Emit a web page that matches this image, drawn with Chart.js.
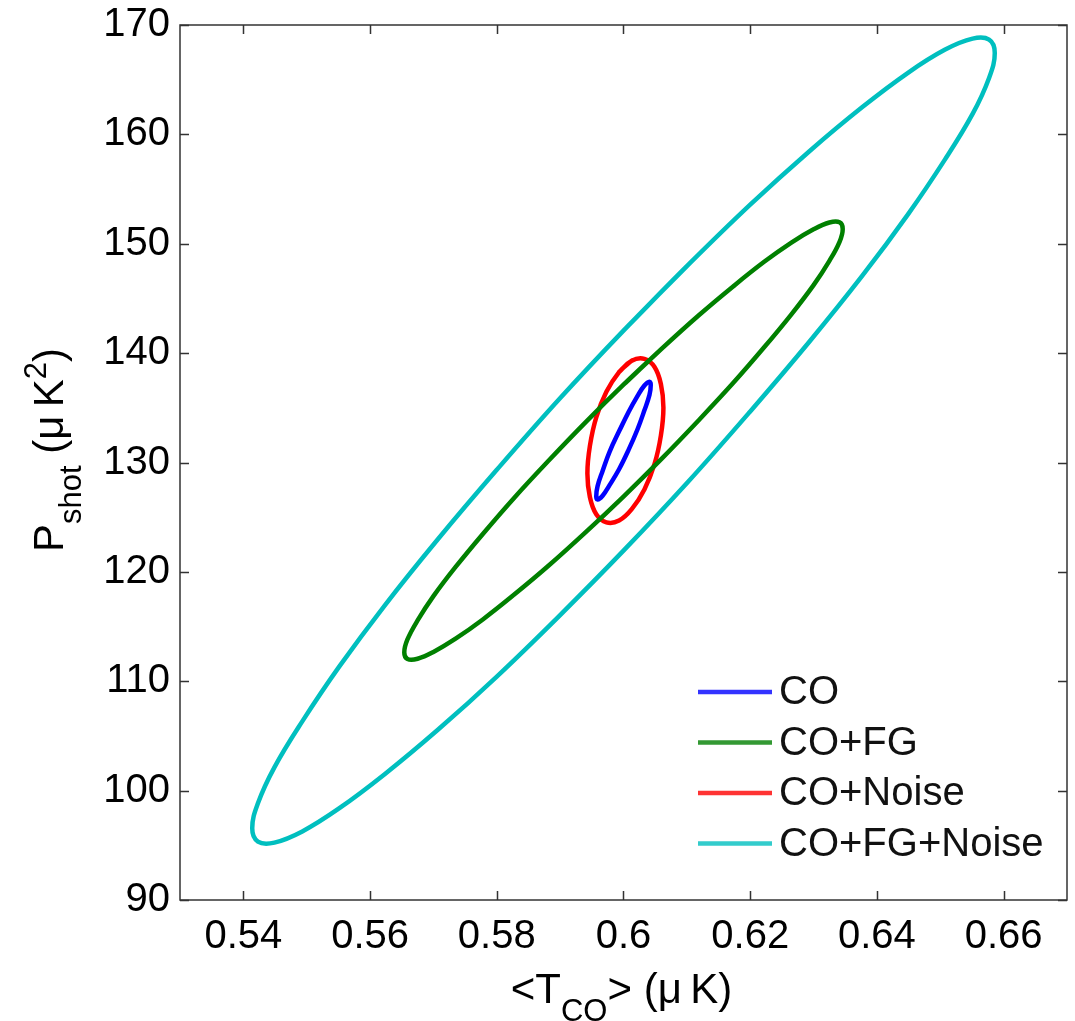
<!DOCTYPE html>
<html><head><meta charset="utf-8">
<script src="https://cdn.jsdelivr.net/npm/chart.js@4/dist/chart.umd.min.js"></script>
<style>html,body{margin:0;padding:0;background:#fff;}canvas{display:block;}</style>
</head><body>
<canvas id="c" width="1075" height="1021"></canvas>
<script>
// ---- data ----
const seriesLabels = ['CO', 'CO+FG', 'CO+Noise', 'CO+FG+Noise'];
const seriesColors = ['#0000FF', '#008000', '#FF0000', '#00BFBF'];

const coX = [0.6008,0.5993,0.5978,0.5967,0.5959,0.5957,0.5959,0.5967,0.5978,0.5993,0.6008,0.6022,0.6033,0.6041,0.6043,0.6041,0.6033,0.6022,0.6008,0.5993];
const coY = [134.62,132.85,130.98,129.23,127.82,126.91,126.61,126.96,127.93,129.38,131.15,133.02,134.77,136.18,137.09,137.39,137.04,136.07,134.62,132.85];

const coFgX = [0.6060,0.6000,0.5940,0.5882,0.5827,0.5778,0.5735,0.5700,0.5675,0.5659,0.5654,0.5659,0.5675,0.5700,0.5735,0.5778,0.5827,0.5882,0.5940,0.6000,0.6060,0.6118,0.6173,0.6222,0.6265,0.6300,0.6325,0.6341,0.6346,0.6341,0.6325,0.6300,0.6265,0.6222,0.6173,0.6118,0.6060,0.6000];
const coFgY = [140.39,137.11,133.67,130.18,126.74,123.47,120.45,117.78,115.56,113.82,112.64,112.04,112.06,112.68,113.89,115.65,117.90,120.58,123.61,126.89,130.33,133.82,137.26,140.53,143.55,146.22,148.44,150.18,151.36,151.96,151.94,151.32,150.11,148.35,146.10,143.42,140.39,137.11];

const coNoiseX = [0.6013,0.5993,0.5973,0.5957,0.5947,0.5943,0.5947,0.5957,0.5973,0.5993,0.6013,0.6033,0.6049,0.6059,0.6063,0.6059,0.6049,0.6033,0.6013,0.5993];
const coNoiseY = [139.31,138.27,136.46,134.13,131.53,128.99,126.82,125.27,124.53,124.69,125.73,127.54,129.87,132.47,135.01,137.18,138.73,139.47,139.31,138.27];

const coFgNoiseX = [0.6102,0.6000,0.5898,0.5800,0.5707,0.5623,0.5551,0.5493,0.5449,0.5423,0.5414,0.5423,0.5449,0.5493,0.5551,0.5623,0.5707,0.5800,0.5898,0.6000,0.6102,0.6200,0.6293,0.6377,0.6449,0.6507,0.6551,0.6577,0.6586,0.6577,0.6551,0.6507,0.6449,0.6377,0.6293,0.6200,0.6102,0.6000];
const coFgNoiseY = [148.06,142.06,135.76,129.33,122.98,116.92,111.31,106.33,102.13,98.84,96.55,95.34,95.25,96.27,98.37,101.50,105.56,110.43,115.94,121.94,128.24,134.67,141.02,147.08,152.69,157.67,161.87,165.16,167.45,168.66,168.75,167.73,165.63,162.50,158.44,153.57,148.06,142.06];

const xTickValues = [0.54, 0.56, 0.58, 0.60, 0.62, 0.64, 0.66];
const xTickLabels = ['0.54', '0.56', '0.58', '0.6', '0.62', '0.64', '0.66'];
const yTickValues = [90, 100, 110, 120, 130, 140, 150, 160, 170];
const yTickLabels = ['90', '100', '110', '120', '130', '140', '150', '160', '170'];

const xTitleParts = [['<T', 'main', 0], ['CO', 'sub', 1], ['> (\u03BC\u2009K)', 'main', 0]];
const yTitleParts = [['P', 'main', 0], ['shot', 'sub', 1], [' (\u03BC\u2009K', 'main', 0], ['2', 'sub', -1], [')', 'main', 0]];

// ---- rendering ----
const FONT = "'Liberation Sans', Arial, Helvetica, sans-serif";
const TICK = 40, MAIN = 42, SUB = 31, SUBSHIFT = 18, SUPSHIFT = 17;

const xsys = [[coX, coY], [coFgX, coFgY], [coNoiseX, coNoiseY], [coFgNoiseX, coFgNoiseY]];
const datasets = seriesLabels.map((lab, i) => ({
  label: lab,
  data: xsys[i][0].map((v, j) => ({ x: v, y: xsys[i][1][j] })),
  showLine: true,
  borderColor: seriesColors[i],
  backgroundColor: seriesColors[i],
  borderWidth: 4.5,
  pointRadius: 0,
  pointHoverRadius: 0,
  tension: 0.4,
  fill: false,
  borderCapStyle: 'round',
  borderJoinStyle: 'round'
}));

function labelFor(vals, labs, v) {
  const k = vals.findIndex(t => Math.abs(t - v) < 1e-9);
  return k >= 0 ? labs[k] : '';
}

function drawRich(ctx, parts, cx, cy) {
  let total = 0;
  const widths = parts.map(p => {
    ctx.font = (p[1] === 'main' ? MAIN : SUB) + 'px ' + FONT;
    const w = ctx.measureText(p[0]).width;
    total += w;
    return w;
  });
  let x = cx - total / 2;
  ctx.textAlign = 'left';
  ctx.textBaseline = 'alphabetic';
  parts.forEach((p, i) => {
    ctx.font = (p[1] === 'main' ? MAIN : SUB) + 'px ' + FONT;
    const dy = p[2] > 0 ? SUBSHIFT : (p[2] < 0 ? -SUPSHIFT : 0);
    ctx.fillText(p[0], x, cy + dy);
    x += widths[i];
  });
}

const decor = {
  id: 'decor',
  afterDraw(chart) {
    const { ctx, chartArea: a, scales: { x, y } } = chart;
    ctx.save();
    // frame
    ctx.strokeStyle = '#333333';
    ctx.lineWidth = 1.5;
    ctx.strokeRect(a.left, a.top, a.right - a.left, a.bottom - a.top);
    // inward ticks on all four sides
    ctx.beginPath();
    xTickValues.forEach(v => {
      const px = Math.round(x.getPixelForValue(v)) + 0.5;
      ctx.moveTo(px, a.bottom); ctx.lineTo(px, a.bottom - 9);
      ctx.moveTo(px, a.top); ctx.lineTo(px, a.top + 9);
    });
    yTickValues.forEach(v => {
      const py = Math.round(y.getPixelForValue(v)) + 0.5;
      ctx.moveTo(a.left, py); ctx.lineTo(a.left + 9, py);
      ctx.moveTo(a.right, py); ctx.lineTo(a.right - 9, py);
    });
    ctx.stroke();

    // axis titles
    ctx.fillStyle = '#000';
    drawRich(ctx, xTitleParts, (a.left + a.right) / 2 - 2, 1003);
    ctx.save();
    ctx.translate(63, 450);
    ctx.rotate(-Math.PI / 2);
    drawRich(ctx, yTitleParts, 0, 0);
    ctx.restore();

    // legend (inside the axes, lower right, no box)
    chart.data.datasets.forEach((ds, i) => {
      const ly = 692 + i * 50.5;
      ctx.globalAlpha = 0.8;
      ctx.strokeStyle = ds.borderColor;
      ctx.lineWidth = 4.5;
      ctx.beginPath();
      ctx.moveTo(698, ly); ctx.lineTo(772, ly);
      ctx.stroke();
      ctx.globalAlpha = 1;
      ctx.fillStyle = '#111';
      ctx.font = TICK + 'px ' + FONT;
      ctx.textAlign = 'left';
      ctx.textBaseline = 'middle';
      ctx.fillText(ds.label, 779, ly + 1);
    });
    ctx.restore();
  }
};

new Chart(document.getElementById('c'), {
  type: 'scatter',
  data: { datasets },
  options: {
    responsive: false,
    animation: false,
    devicePixelRatio: 1,
    layout: { padding: { top: 25, right: 8, left: 0, bottom: 0 } },
    plugins: { legend: { display: false }, tooltip: { enabled: false } },
    scales: {
      x: {
        type: 'linear', min: 0.53, max: 0.67,
        grid: { display: false, drawTicks: false },
        border: { display: false },
        afterBuildTicks: s => { s.ticks = xTickValues.map(v => ({ value: v })); },
        afterFit: s => { s.height = 121; s.paddingLeft = 0; s.paddingRight = 0; },
        ticks: {
          callback: v => labelFor(xTickValues, xTickLabels, v),
          font: { family: FONT, size: TICK }, color: '#000',
          padding: 13, maxRotation: 0, autoSkip: false
        }
      },
      y: {
        type: 'linear', min: 90, max: 170,
        grid: { display: false, drawTicks: false },
        border: { display: false },
        afterBuildTicks: s => { s.ticks = yTickValues.map(v => ({ value: v })); },
        afterFit: s => { s.width = 180; s.paddingTop = 0; s.paddingBottom = 0; },
        ticks: {
          callback: v => labelFor(yTickValues, yTickLabels, v),
          font: { family: FONT, size: TICK }, color: '#000',
          padding: 10, autoSkip: false
        }
      }
    }
  },
  plugins: [decor]
});
</script>
</body></html>
